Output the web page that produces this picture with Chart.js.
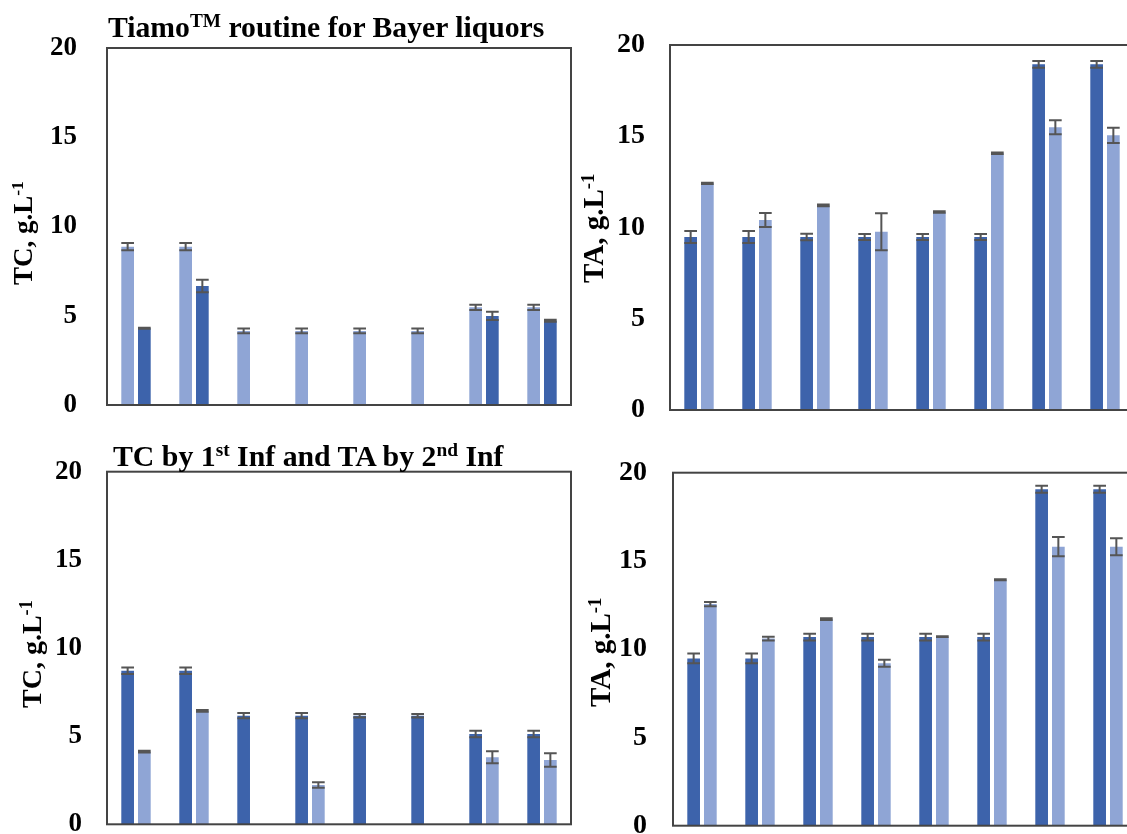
<!DOCTYPE html>
<html>
<head>
<meta charset="utf-8">
<script src="https://cdn.jsdelivr.net/npm/chart.js@4.4.0/dist/chart.umd.min.js"></script>
<style>
  html, body { margin: 0; padding: 0; background: #fff; overflow: hidden; }
  #page { position: relative; width: 1127px; height: 834px; overflow: hidden; background: #fff; }
  canvas { position: absolute; }
  .t { position: absolute; font-family: 'Liberation Serif', 'Times New Roman', serif; font-weight: bold;
       color: #000; white-space: nowrap; line-height: 1; }
  .t sup { font-size: 0.65em; vertical-align: baseline; position: relative; top: -0.5em; line-height: 0; }
  .rot { transform-origin: 0 0; transform: rotate(-90deg); }
</style>
</head>
<body>
<div id="page">
  <canvas id="tcTiamo" width="600" height="420" style="left:0;top:0"></canvas>
  <canvas id="taTiamo" width="600" height="420" style="left:563px;top:0"></canvas>
  <canvas id="tcInf" width="600" height="414" style="left:0;top:420px"></canvas>
  <canvas id="taInf" width="600" height="414" style="left:563px;top:420px"></canvas>

  <div class="t" style="left:108px;top:12.5px;font-size:29.7px">Tiamo<sup>TM</sup> routine for Bayer liquors</div>
  <div class="t" style="left:113px;top:441px;font-size:29.8px">TC by 1<sup>st</sup> Inf and TA by 2<sup>nd</sup> Inf</div>

  <div class="t rot" style="left:9.7px;top:285px;font-size:27px">TC, g.L<sup>-1</sup></div>
  <div class="t rot" style="left:579px;top:283px;font-size:29px">TA, g.L<sup>-1</sup></div>
  <div class="t rot" style="left:18px;top:708px;font-size:28px">TC, g.L<sup>-1</sup></div>
  <div class="t rot" style="left:586px;top:707px;font-size:29px">TA, g.L<sup>-1</sup></div>
</div>

<script>
// Eight liquor samples per panel
const samples = ['S1', 'S2', 'S3', 'S4', 'S5', 'S6', 'S7', 'S8'];
const yTicks = [0, 5, 10, 15, 20];

// Tiamo routine: total caustic (TC), g/L
const tcTiamoLight    = [8.87, 8.87, 4.15, 4.15, 4.15, 4.15, 5.47, 5.47];
const tcTiamoLightErr = [0.20, 0.20, 0.13, 0.13, 0.13, 0.13, 0.15, 0.15];
const tcTiamoDark     = [4.30, 6.67, null, null, null, null, 4.99, 4.72];
const tcTiamoDarkErr  = [0.03, 0.35, 0, 0, 0, 0, 0.23, 0.05];

// Tiamo routine: total alkali (TA), g/L
const taTiamoDark     = [9.48, 9.48, 9.48, 9.48, 9.48, 9.48, 18.94, 18.94];
const taTiamoDarkErr  = [0.33, 0.33, 0.18, 0.17, 0.17, 0.17, 0.19, 0.19];
const taTiamoLight    = [12.42, 10.41, 11.21, 9.77, 10.85, 14.07, 15.49, 15.05];
const taTiamoLightErr = [0.03, 0.38, 0.05, 1.01, 0.04, 0.04, 0.38, 0.42];

// TC by 1st inflection, g/L
const tcInfDark     = [8.71, 8.71, 6.16, 6.16, 6.16, 6.16, 5.12, 5.12];
const tcInfDarkErr  = [0.18, 0.18, 0.15, 0.15, 0.10, 0.10, 0.18, 0.18];
const tcInfLight    = [4.12, 6.43, null, 2.23, null, null, 3.80, 3.65];
const tcInfLightErr = [0.05, 0.05, 0, 0.16, 0, 0, 0.34, 0.38];

// TA by 2nd inflection, g/L
const taInfDark     = [9.48, 9.48, 10.69, 10.69, 10.69, 10.69, 19.06, 19.06];
const taInfDarkErr  = [0.28, 0.28, 0.19, 0.19, 0.19, 0.19, 0.20, 0.20];
const taInfLight    = [12.56, 10.60, 11.71, 9.20, 10.71, 13.94, 15.81, 15.81];
const taInfLightErr = [0.12, 0.10, 0.05, 0.20, 0.02, 0.03, 0.54, 0.48];

const DARK = '#3d63ab';
const LIGHT = '#8fa5d5';
const FONT = "'Liberation Serif', 'Times New Roman', serif";

// Frame around the plot area plus +/- error bars on each bar
const framePlugin = {
  id: 'frameAndErrors',
  afterDatasetsDraw(chart) {
    const ctx = chart.ctx;
    const y = chart.scales.y;
    ctx.save();
    chart.data.datasets.forEach((ds, di) => {
      const meta = chart.getDatasetMeta(di);
      if (!ds.errorBars) return;
      meta.data.forEach((bar, i) => {
        const v = ds.data[i];
        if (v === null || v === undefined) return;
        const e = ds.errorBars[i] || 0;
        const yHi = y.getPixelForValue(v + e);
        const yLo = y.getPixelForValue(v - e);
        const half = bar.width / 2;
        ctx.strokeStyle = '#555555';
        ctx.lineWidth = 2;
        ctx.beginPath();
        ctx.moveTo(bar.x, yHi); ctx.lineTo(bar.x, yLo);
        ctx.moveTo(bar.x - half, yHi); ctx.lineTo(bar.x + half, yHi);
        ctx.moveTo(bar.x - half, yLo); ctx.lineTo(bar.x + half, yLo);
        ctx.stroke();
      });
    });
    const a = chart.chartArea;
    ctx.strokeStyle = '#444444';
    ctx.lineWidth = 2;
    ctx.strokeRect(a.left, a.top, a.right - a.left, a.bottom - a.top);
    ctx.restore();
  }
};

function panel(id, series, cfg) {
  new Chart(document.getElementById(id), {
    type: 'bar',
    data: {
      labels: samples,
      datasets: series.map(s => ({
        data: s.values,
        errorBars: s.errors,
        backgroundColor: s.color,
        borderWidth: 0,
        barPercentage: 0.76,
        categoryPercentage: 0.576
      }))
    },
    options: {
      responsive: false,
      animation: false,
      events: [],
      layout: { padding: cfg.padding },
      plugins: { legend: { display: false }, tooltip: { enabled: false }, title: { display: false } },
      scales: {
        x: { display: false, offset: true },
        y: {
          min: 0, max: 20,
          afterBuildTicks: scale => { scale.ticks = yTicks.map(v => ({ value: v })); },
          afterFit: scale => {
            scale.width = cfg.yWidth;
            scale.paddingTop = 0; scale.paddingBottom = 0;
          },
          grid: { display: false, drawTicks: false },
          border: { display: false },
          ticks: {
            padding: cfg.tickPad,
            color: '#000',
            font: { family: FONT, size: cfg.tickSize, weight: 'bold' }
          }
        }
      }
    },
    plugins: [framePlugin]
  });
}

panel('tcTiamo', [
  { values: tcTiamoLight, errors: tcTiamoLightErr, color: LIGHT },
  { values: tcTiamoDark, errors: tcTiamoDarkErr, color: DARK }
], { yWidth: 107, tickPad: 30, tickSize: 27, padding: { top: 48, right: 29, bottom: 15, left: 0 } });

panel('taTiamo', [
  { values: taTiamoDark, errors: taTiamoDarkErr, color: DARK },
  { values: taTiamoLight, errors: taTiamoLightErr, color: LIGHT }
], { yWidth: 107, tickPad: 25, tickSize: 28, padding: { top: 45, right: 29, bottom: 10, left: 0 } });

panel('tcInf', [
  { values: tcInfDark, errors: tcInfDarkErr, color: DARK },
  { values: tcInfLight, errors: tcInfLightErr, color: LIGHT }
], { yWidth: 107, tickPad: 25, tickSize: 27, padding: { top: 51.7, right: 29, bottom: 9.7, left: 0 } });

panel('taInf', [
  { values: taInfDark, errors: taInfDarkErr, color: DARK },
  { values: taInfLight, errors: taInfLightErr, color: LIGHT }
], { yWidth: 110, tickPad: 26, tickSize: 28, padding: { top: 52.7, right: 26, bottom: 8.3, left: 0 } });
</script>
</body>
</html>
